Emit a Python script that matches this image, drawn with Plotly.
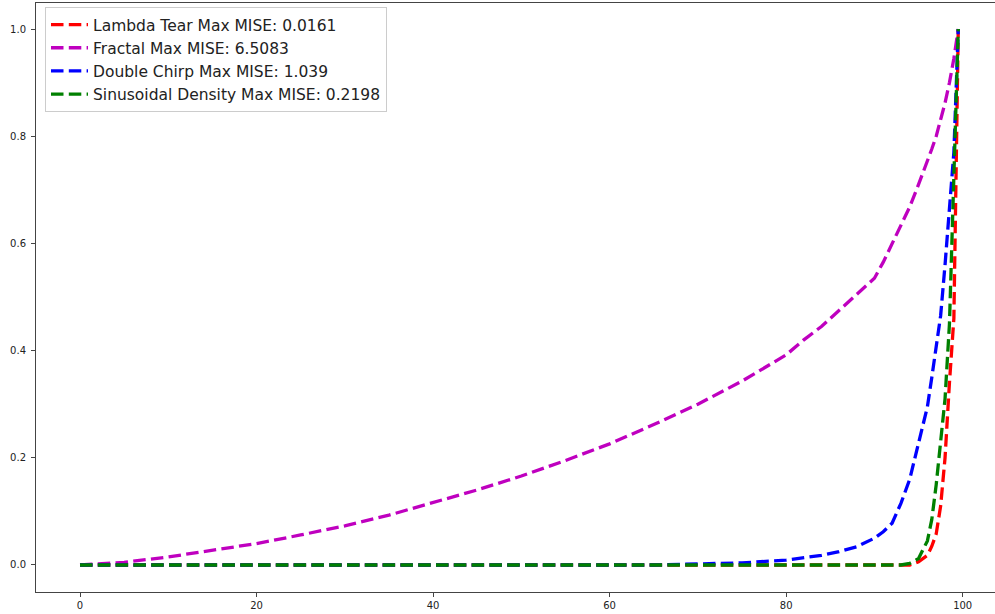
import plotly.graph_objects as go

# Shared x grid (iteration / percentile index)
x_vals = [0, 5, 10, 15, 20, 25, 30, 35, 40, 45, 50, 55, 60, 65, 70, 75, 80,
          82, 84, 86, 88, 90, 91, 92, 93, 94, 95, 96, 96.5, 97, 97.5, 98,
          98.5, 99, 99.5]

lambda_tear = [0] * 26 + [0.006, 0.018, 0.035, 0.058, 0.11, 0.20, 0.34, 0.46, 1.0]

fractal = [0, 0.005, 0.015, 0.027, 0.040, 0.056, 0.073, 0.093, 0.117, 0.140,
           0.166, 0.195, 0.226, 0.262, 0.300, 0.343, 0.392, 0.420, 0.445,
           0.475, 0.505, 0.535, 0.565, 0.600, 0.633, 0.668, 0.710, 0.752,
           0.776, 0.800, 0.830, 0.862, 0.900, 0.945, 1.0]

double_chirp = [0] * 14 + [0.002, 0.004, 0.009, 0.013, 0.018, 0.025, 0.034,
                           0.050, 0.062, 0.078, 0.115, 0.16, 0.225, 0.295,
                           0.35, 0.41, 0.465, 0.56, 0.66, 0.77, 1.0]

sinusoidal = [0] * 25 + [0.003, 0.012, 0.045, 0.085, 0.15, 0.225, 0.31, 0.45, 0.72, 1.0]

series_names = ["Lambda Tear Max MISE: 0.0161",
                "Fractal Max MISE: 6.5083",
                "Double Chirp Max MISE: 1.039",
                "Sinusoidal Density Max MISE: 0.2198"]
series_values = [lambda_tear, fractal, double_chirp, sinusoidal]
series_colors = ["#FF0000", "#BF00BF", "#0000FF", "#008000"]

x_ticks = [0, 20, 40, 60, 80, 100]
y_ticks = [0.0, 0.2, 0.4, 0.6, 0.8, 1.0]

fig = go.Figure()
for name, vals, col in zip(series_names, series_values, series_colors):
    fig.add_trace(go.Scatter(
        x=x_vals, y=vals, mode="lines", name=name,
        line=dict(color=col, width=3.3, dash="12.5px,5.3px"),
    ))

axis_font = dict(family="DejaVu Sans", size=10, color="#222222")
fig.update_layout(
    width=995, height=614, autosize=False,
    margin=dict(l=36, r=0, t=3, b=22),
    paper_bgcolor="white", plot_bgcolor="white",
    font=dict(family="DejaVu Sans", color="#222222"),
    showlegend=True,
    legend=dict(
        x=(45 - 36) / 959, y=(592 - 7) / 589, xanchor="left", yanchor="top",
        bgcolor="rgba(255,255,255,0.8)", bordercolor="#cccccc", borderwidth=1,
        font=dict(family="DejaVu Sans", size=15.5, color="#222222"),
        itemwidth=37,
    ),
    xaxis=dict(
        range=[-4.985, 103.66], tickvals=x_ticks, ticktext=[str(v) for v in x_ticks],
        showgrid=False, zeroline=False, showline=True, linecolor="#444444",
        linewidth=1, mirror=True, ticks="outside", ticklen=4, tickcolor="#444444",
        tickfont=axis_font,
    ),
    yaxis=dict(
        range=[-0.0504, 1.0485], tickvals=y_ticks, tickformat=".1f",
        showgrid=False, zeroline=False, showline=True, linecolor="#444444",
        linewidth=1, mirror=False, ticks="outside", ticklen=4, tickcolor="#444444",
        tickfont=axis_font, ticklabelstandoff=3,
    ),
)

fig.write_html("out.html",
               config={"displayModeBar": False},
               post_script="document.body.style.margin='0';document.body.style.overflow='hidden';")
